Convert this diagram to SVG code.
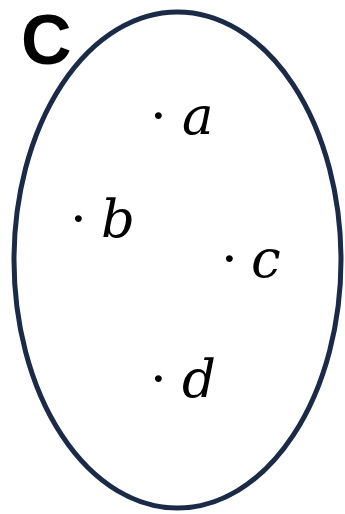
<svg xmlns="http://www.w3.org/2000/svg" width="345" height="514" viewBox="0 0 345 514">
<style>
.set{fill:none;stroke:#1B2A47;stroke-width:5}
.el{font-family:"DejaVu Serif","Liberation Serif",serif;font-size:53px;fill:#000}
.el .v{font-style:italic}
.name{font-family:"Liberation Sans","DejaVu Sans",sans-serif;font-weight:bold;font-size:70px;fill:#000}
</style>
<rect width="345" height="514" fill="#fff"/>
<g id="set-C">
<ellipse class="set" cx="177.5" cy="260" rx="163.5" ry="248"/>
<text class="name" x="21" y="64">C</text>
</g>
<g id="el-a"><text class="el"><tspan x="150" y="134">·</tspan><tspan class="v" x="182" y="134">a</tspan></text></g>
<g id="el-b"><text class="el"><tspan x="70" y="237">·</tspan><tspan class="v" x="101" y="237">b</tspan></text></g>
<g id="el-c"><text class="el"><tspan x="221" y="277">·</tspan><tspan class="v" x="251" y="277">c</tspan></text></g>
<g id="el-d"><text class="el"><tspan x="150" y="397">·</tspan><tspan class="v" x="182" y="397">d</tspan></text></g>
</svg>
